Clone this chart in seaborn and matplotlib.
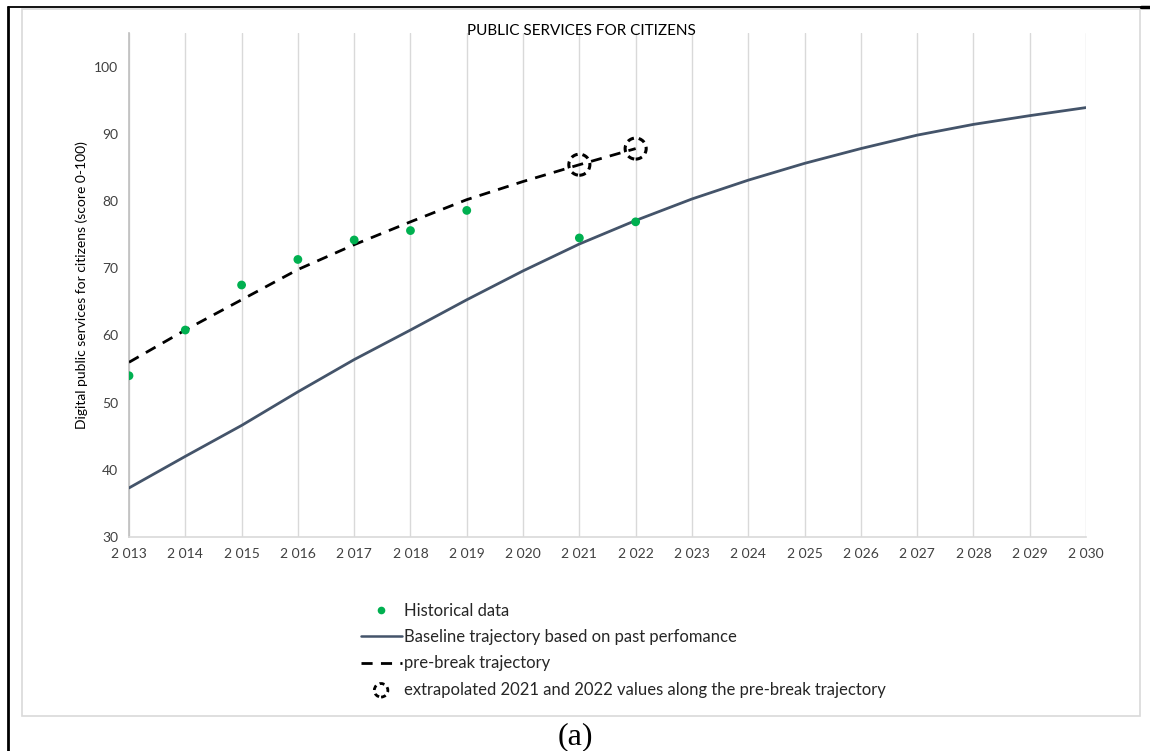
import matplotlib
matplotlib.use("Agg")
import matplotlib.pyplot as plt
from matplotlib.lines import Line2D
import seaborn as sns
import pandas as pd

# Historical scores
hist_years = [2013, 2014, 2015, 2016, 2017, 2018, 2019, 2021, 2022]
hist_values = [54.0, 60.8, 67.5, 71.3, 74.2, 75.6, 78.6, 74.5, 76.9]

# Baseline trajectory based on past performance
base_years = list(range(2013, 2031))
base_values = [37.3, 42.0, 46.6, 51.6, 56.4, 60.8, 65.3, 69.6, 73.6, 77.1,
               80.3, 83.1, 85.6, 87.8, 89.8, 91.4, 92.7, 93.9]

# Pre-break trajectory
pre_years = list(range(2013, 2023))
pre_values = [56.0, 60.8, 65.3, 69.8, 73.5, 76.9, 80.2, 82.9, 85.4, 87.8]

# Extrapolated values on the pre-break trajectory
extra_years = [2021, 2022]
extra_values = [85.4, 87.8]

x_ticks = list(range(2013, 2031))
x_tick_labels = [f"{y // 1000} {y % 1000:03d}" for y in x_ticks]
y_ticks = [30, 40, 50, 60, 70, 80, 90, 100]

sns.set_theme(style="white")
plt.rcParams["font.family"] = ["Lato", "DejaVu Sans"]

fig = plt.figure(figsize=(11.5, 7.51), dpi=100)
ax = fig.add_axes([129 / 1150, 1 - 537 / 751, (1086 - 129) / 1150, (537 - 33) / 751])

hist_df = pd.DataFrame({"year": hist_years, "score": hist_values})
base_df = pd.DataFrame({"year": base_years, "score": base_values})
pre_df = pd.DataFrame({"year": pre_years, "score": pre_values})
extra_df = pd.DataFrame({"year": extra_years, "score": extra_values})

dash = (0, (4, 3))
circle_dash = (0, (2.2, 1.6))

sns.lineplot(data=base_df, x="year", y="score", ax=ax, color="#44546A",
             linewidth=2.0, zorder=3)
sns.lineplot(data=pre_df, x="year", y="score", ax=ax, color="black",
             linewidth=2.0, linestyle=dash, zorder=3)
sns.scatterplot(data=hist_df, x="year", y="score", ax=ax, color="#00B050",
                s=40, edgecolor="none", zorder=4)
ax.scatter(extra_df["year"], extra_df["score"], s=230, facecolors="none",
           edgecolors="black", linewidths=2.2, linestyles=circle_dash,
           zorder=5)

ax.set_xlim(2013, 2030)
ax.set_ylim(30, 105)
ax.set_xticks(x_ticks)
ax.set_xticklabels(x_tick_labels)
ax.set_yticks(y_ticks)
ax.tick_params(axis="both", labelsize=10, length=0, pad=8)
for lbl in ax.get_xticklabels() + ax.get_yticklabels():
    lbl.set_color("#404040")
ax.grid(axis="x", color="#D9D9D9", linewidth=1.0)
ax.grid(axis="y", visible=False)
for side in ("top", "right"):
    ax.spines[side].set_visible(False)
ax.spines["left"].set_color("#BFBFBF")
ax.spines["bottom"].set_color("#D9D9D9")
ax.spines["left"].set_linewidth(1.2)
ax.spines["bottom"].set_linewidth(1.2)
ax.set_xlabel("")
ax.set_ylabel("Digital public services for citizens (score 0-100)",
              fontsize=10, color="black", labelpad=4)

fig.text(581 / 1150, 1 - 31 / 751, "PUBLIC SERVICES FOR CITIZENS",
         ha="center", va="center", fontsize=11, color="black")

# Legend proxies (empty collections/lines do not change the axes limits)
legend_circle = ax.scatter([], [], s=95, facecolors="none",
                           edgecolors="black", linewidths=2.0,
                           linestyles=(0, (1.8, 1.4)))
handles = [
    Line2D([], [], linestyle="none", marker="o", markersize=5.5,
           markerfacecolor="#00B050", markeredgecolor="none"),
    Line2D([], [], color="#44546A", linewidth=1.8),
    Line2D([], [], color="black", linewidth=2.0, linestyle=dash),
    legend_circle,
]
labels = [
    "Historical data",
    "Baseline trajectory based on past perfomance",
    "pre-break trajectory",
    "extrapolated 2021 and 2022 values along the pre-break trajectory",
]
fig.legend(handles, labels, loc="upper left",
           bbox_to_anchor=(354 / 1150, 1 - 596 / 751), frameon=False,
           fontsize=12, handlelength=2.45, handletextpad=0.15,
           labelspacing=0.62, borderaxespad=0, scatterpoints=1)

# Chart frame and page border
fig.add_artist(plt.Rectangle((22 / 1150, 1 - 716 / 751), (1140 - 22) / 1150,
                             (716 - 9) / 751, transform=fig.transFigure,
                             fill=False, edgecolor="#D9D9D9", linewidth=1.2))
fig.add_artist(Line2D([8 / 1150, 8 / 1150], [0, 1 - 7 / 751],
                      transform=fig.transFigure, color="black", linewidth=2))
fig.add_artist(Line2D([8 / 1150, 1141 / 1150], [1 - 7 / 751, 1 - 7 / 751],
                      transform=fig.transFigure, color="black", linewidth=1.3))
fig.add_artist(Line2D([1141 / 1150, 1], [1 - 7 / 751, 1 - 7 / 751],
                      transform=fig.transFigure, color="black", linewidth=2.5))

fig.text(575 / 1150, 1 - 737 / 751, "(a)", ha="center", va="center",
         fontsize=23, family=["Liberation Serif", "DejaVu Serif"], color="black")

fig.savefig("out.png", dpi=100, facecolor="white")
